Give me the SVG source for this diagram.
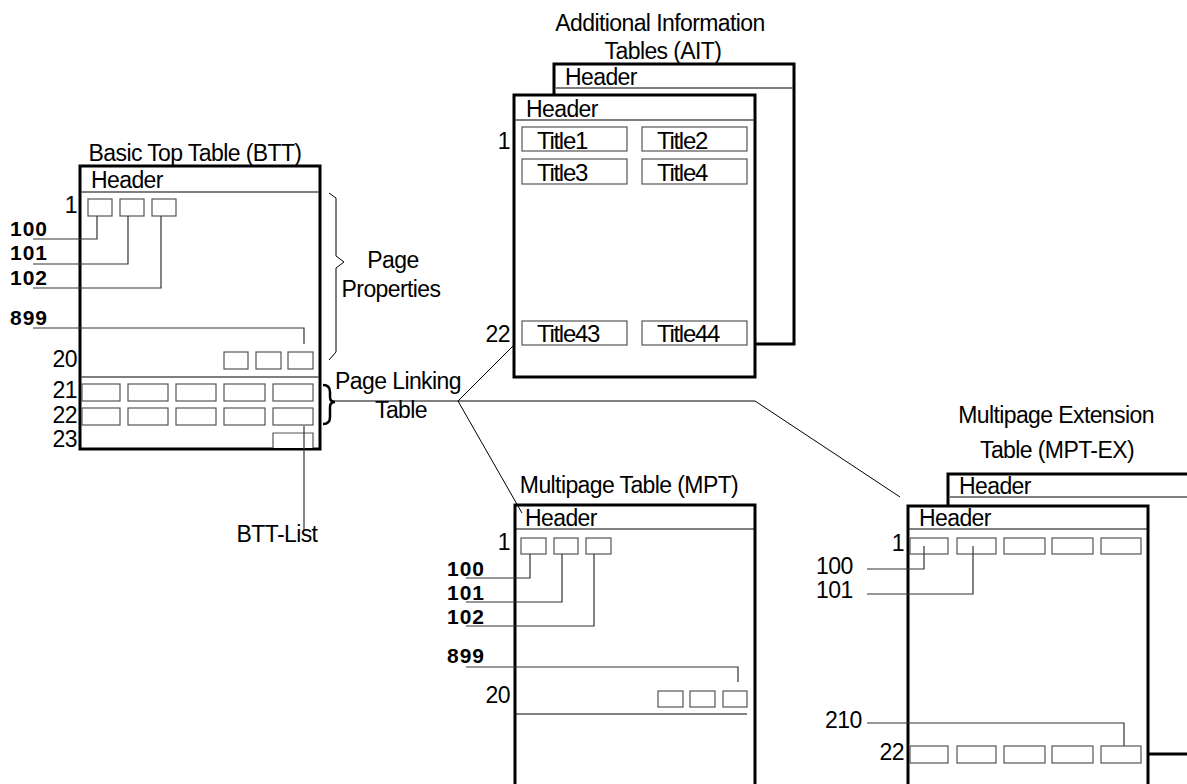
<svg xmlns="http://www.w3.org/2000/svg" width="1187" height="784" viewBox="0 0 1187 784">
<style>
text{font-family:"Liberation Sans",Arial,sans-serif;font-size:23px;letter-spacing:-0.6px;fill:#000}
.ttl{font-size:23px;text-anchor:middle}
.b{font-weight:bold;font-size:21px;letter-spacing:1px}
.e{text-anchor:end}
.m{text-anchor:middle}
.tt{font-size:24px;letter-spacing:-1.3px}
.frame{fill:#fff;stroke:#000;stroke-width:3}
.hl{stroke:#555;stroke-width:1.5;fill:none}
.cell{fill:#fff;stroke:#555;stroke-width:1.2}
.ld{stroke:#333;stroke-width:1.2;fill:none}
.cn{stroke:#000;stroke-width:1;fill:none}
</style>

<g id="btt">
  <text class="ttl" x="195" y="161">Basic Top Table (BTT)</text>
  <rect class="frame" x="80" y="166" width="240" height="283"/>
  <line class="hl" x1="81" y1="192" x2="319" y2="192"/>
  <text x="91" y="188">Header</text>
  <text class="e" x="77" y="213">1</text>
  <rect class="cell" x="88" y="199" width="24" height="17"/>
  <rect class="cell" x="120" y="199" width="24" height="17"/>
  <rect class="cell" x="152" y="199" width="24" height="17"/>
  <text class="b" x="10" y="236">100</text>
  <text class="b" x="10" y="260">101</text>
  <text class="b" x="10" y="285">102</text>
  <text class="b" x="10" y="325">899</text>
  <path class="ld" d="M33,239H97V216M33,264H128V216M33,288H161V216M33,328H304V344"/>
  <text class="e" x="77" y="367">20</text>
  <rect class="cell" x="224" y="352" width="24" height="17"/>
  <rect class="cell" x="256" y="352" width="25" height="17"/>
  <rect class="cell" x="288" y="352" width="25" height="17"/>
  <line class="hl" x1="81" y1="377" x2="319" y2="377"/>
  <text class="e" x="77" y="398">21</text>
  <text class="e" x="77" y="423">22</text>
  <text class="e" x="77" y="447">23</text>
  <rect class="cell" x="82" y="384" width="38" height="17"/>
  <rect class="cell" x="128" y="384" width="40" height="17"/>
  <rect class="cell" x="176" y="384" width="40" height="17"/>
  <rect class="cell" x="224" y="384" width="41" height="17"/>
  <rect class="cell" x="273" y="384" width="40" height="17"/>
  <rect class="cell" x="82" y="408" width="38" height="17"/>
  <rect class="cell" x="128" y="408" width="40" height="17"/>
  <rect class="cell" x="176" y="408" width="40" height="17"/>
  <rect class="cell" x="224" y="408" width="41" height="17"/>
  <rect class="cell" x="273" y="408" width="40" height="17"/>
  <path class="cell" d="M273,448V433H313V448"/>
  <line class="ld" x1="304" y1="426" x2="304" y2="530"/>
  <text class="m" x="277" y="542">BTT-List</text>
</g>

<g id="page-properties">
  <path class="cn" d="M329,193L336,198V256L344,262L336,268V352L329,360"/>
  <text class="m" x="393" y="268">Page</text>
  <text class="m" x="391" y="297">Properties</text>
</g>

<g id="page-linking">
  <path d="M323,385Q330,385 330,392V397Q330,402 335,402Q330,402 330,407V417Q330,424 323,424" fill="none" stroke="#000" stroke-width="2.5"/>
  <text class="m" x="398" y="389">Page Linking</text>
  <text class="m" x="401" y="418">Table</text>
</g>

<g id="ait">
  <text class="ttl" x="660" y="31">Additional Information</text>
  <text class="ttl" x="663" y="59">Tables (AIT)</text>
  <rect class="frame" x="554" y="64" width="240" height="280"/>
  <line class="hl" x1="556" y1="88" x2="793" y2="88"/>
  <text x="565" y="85">Header</text>
  <rect class="frame" x="514" y="95" width="241" height="282"/>
  <line class="hl" x1="515" y1="120" x2="754" y2="120"/>
  <text x="526" y="117">Header</text>
  <text class="e" x="510" y="149">1</text>
  <text class="e" x="510" y="342">22</text>
  <rect class="cell" x="522" y="127" width="105" height="24"/>
  <rect class="cell" x="642" y="127" width="105" height="24"/>
  <rect class="cell" x="522" y="159" width="105" height="25"/>
  <rect class="cell" x="642" y="159" width="105" height="25"/>
  <rect class="cell" x="522" y="321" width="105" height="24"/>
  <rect class="cell" x="642" y="321" width="105" height="24"/>
  <text class="tt" x="537" y="149">Title1</text>
  <text class="tt" x="657" y="149">Title2</text>
  <text class="tt" x="537" y="181">Title3</text>
  <text class="tt" x="657" y="181">Title4</text>
  <text class="tt" x="537" y="342">Title43</text>
  <text class="tt" x="657" y="342">Title44</text>
</g>

<g id="mpt">
  <text class="ttl" x="629" y="493">Multipage Table (MPT)</text>
  <rect class="frame" x="515" y="505" width="240" height="300"/>
  <line class="cn" x1="516" y1="529" x2="754" y2="529"/>
  <text x="525" y="526">Header</text>
  <text class="e" x="510" y="550">1</text>
  <rect class="cell" x="521" y="538" width="25" height="16"/>
  <rect class="cell" x="554" y="538" width="24" height="16"/>
  <rect class="cell" x="586" y="538" width="25" height="16"/>
  <text class="b" x="447" y="576">100</text>
  <text class="b" x="447" y="600">101</text>
  <text class="b" x="447" y="624">102</text>
  <text class="b" x="447" y="663">899</text>
  <path class="ld" d="M466,578H530V554M466,602H562V554M466,626H594V554M466,667H738V682"/>
  <text class="e" x="510" y="703">20</text>
  <rect class="cell" x="658" y="691" width="25" height="16"/>
  <rect class="cell" x="690" y="691" width="25" height="16"/>
  <rect class="cell" x="723" y="691" width="24" height="16"/>
  <line class="cn" x1="516" y1="714" x2="747" y2="714"/>
</g>

<g id="mpt-ex">
  <text class="ttl" x="1056" y="423">Multipage Extension</text>
  <text class="ttl" x="1057" y="458">Table (MPT-EX)</text>
  <rect class="frame" x="948" y="474" width="260" height="280"/>
  <line class="hl" x1="950" y1="497" x2="1187" y2="497"/>
  <text x="959" y="494">Header</text>
  <rect class="frame" x="908" y="506" width="240" height="300"/>
  <line class="cn" x1="909" y1="529" x2="1147" y2="529"/>
  <text x="919" y="526">Header</text>
  <text class="e" x="904" y="551">1</text>
  <rect class="cell" x="910" y="538" width="38" height="16"/>
  <rect class="cell" x="957" y="538" width="39" height="16"/>
  <rect class="cell" x="1004" y="538" width="41" height="16"/>
  <rect class="cell" x="1052" y="538" width="41" height="16"/>
  <rect class="cell" x="1101" y="538" width="40" height="16"/>
  <text x="816" y="574">100</text>
  <text x="816" y="598">101</text>
  <text x="825" y="728">210</text>
  <path class="ld" d="M867,569H924V546M867,594H973V546M867,723H1124V754"/>
  <text class="e" x="904" y="760">22</text>
  <rect class="cell" x="910" y="746" width="38" height="17"/>
  <rect class="cell" x="957" y="746" width="39" height="17"/>
  <rect class="cell" x="1004" y="746" width="41" height="17"/>
  <rect class="cell" x="1052" y="746" width="41" height="17"/>
  <rect class="cell" x="1101" y="746" width="40" height="17"/>
</g>

<g id="connectors">
  <path class="cn" d="M332,401H458L513,346M458,401L522,513M458,401H755L900,497"/>
</g>
</svg>
